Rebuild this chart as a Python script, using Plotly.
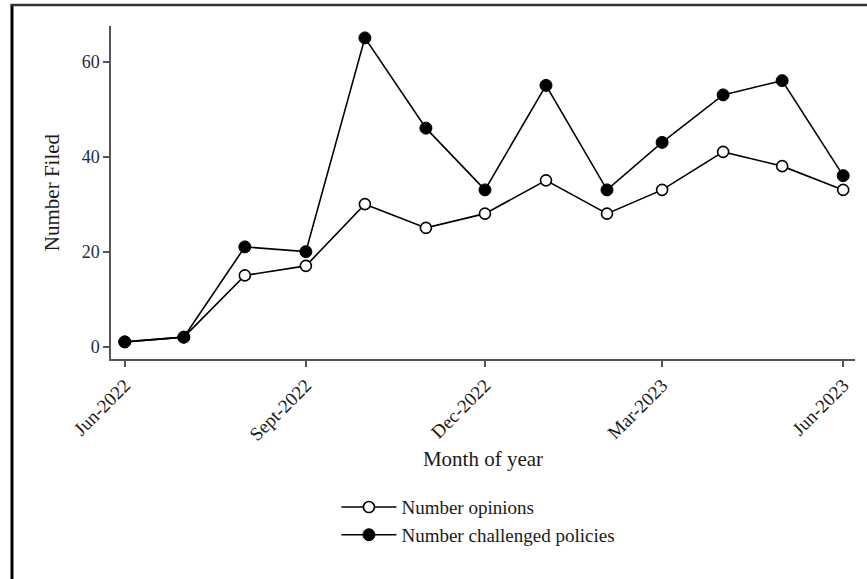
import plotly.graph_objects as go

# Monthly filings, June 2022 through June 2023
months = ["2022-06-01", "2022-07-01", "2022-08-01", "2022-09-01", "2022-10-01",
          "2022-11-01", "2022-12-01", "2023-01-01", "2023-02-01", "2023-03-01",
          "2023-04-01", "2023-05-01", "2023-06-01"]
opinions = [1, 2, 15, 17, 30, 25, 28, 35, 28, 33, 41, 38, 33]
challenged = [1, 2, 21, 20, 65, 46, 33, 55, 33, 43, 53, 56, 36]

tick_vals = ["2022-06-01", "2022-09-01", "2022-12-01", "2023-03-01", "2023-06-01"]
tick_text = ["Jun-2022", "Sept-2022", "Dec-2022", "Mar-2023", "Jun-2023"]
y_ticks = [0, 20, 40, 60]

FONT = "Liberation Serif"

fig = go.Figure()
fig.add_trace(go.Scatter(
    x=months, y=opinions, name="Number opinions", mode="lines+markers",
    line=dict(color="black", width=1.6),
    marker=dict(symbol="circle", size=11, color="white",
                line=dict(color="black", width=1.6)),
))
fig.add_trace(go.Scatter(
    x=months, y=challenged, name="Number challenged policies", mode="lines+markers",
    line=dict(color="black", width=1.6),
    marker=dict(symbol="circle", size=12, color="black",
                line=dict(color="black", width=1)),
))

fig.update_layout(
    width=867, height=579,
    margin=dict(l=111, r=12, t=26, b=220),
    paper_bgcolor="white", plot_bgcolor="white",
    font=dict(family=FONT, size=16, color="#1a1a1a"),
    showlegend=True,
    legend=dict(x=0.303, y=-0.388, xanchor="left", yanchor="top",
                font=dict(family=FONT, size=19, color="#1a1a1a"),
                itemwidth=55,
                bgcolor="rgba(0,0,0,0)", tracegroupgap=0),
    shapes=[
        # outer frame: left edge and top edge
        dict(type="line", xref="paper", yref="paper",
             x0=-0.1331, x1=-0.1331, y0=1.066, y1=-0.7,
             line=dict(color="black", width=3)),
        dict(type="line", xref="paper", yref="paper",
             x0=-0.1345, x1=1.03, y0=1.063, y1=1.063,
             line=dict(color="#333333", width=2.5)),
    ],
)

fig.update_xaxes(
    type="date",
    range=["2022-05-25", "2023-06-07"],
    tickvals=tick_vals, ticktext=tick_text, tickangle=-45,
    ticks="outside", ticklen=6, tickwidth=1.5, tickcolor="#555555",
    showline=True, linecolor="#555555", linewidth=1.5,
    showgrid=False, zeroline=False,
    tickfont=dict(family=FONT, size=19, color="#1a1a1a"),
    title=dict(text="Month of year", font=dict(family=FONT, size=21, color="#1a1a1a"),
               standoff=7),
)
fig.update_yaxes(
    range=[-2.6, 67.5],
    tickvals=y_ticks,
    ticks="outside", ticklen=6, tickwidth=1.5, tickcolor="#555555",
    showline=True, linecolor="#555555", linewidth=1.5,
    showgrid=False, zeroline=False,
    tickfont=dict(family=FONT, size=18, color="#1f2a44"),
    title=dict(text="Number Filed", font=dict(family=FONT, size=21, color="#1a1a1a"),
               standoff=16),
)

fig.write_html("out.html")
